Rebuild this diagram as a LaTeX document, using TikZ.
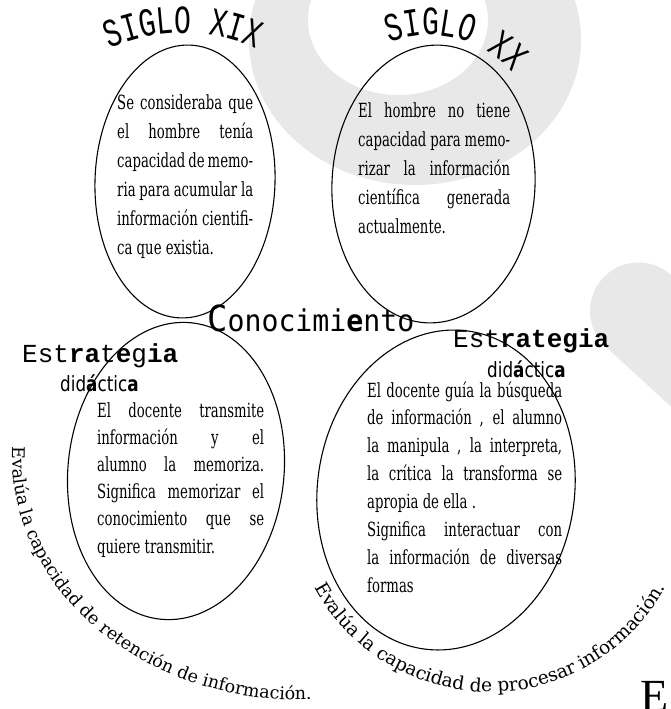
\documentclass[tikz,border=0pt]{standalone}
\usepackage{fontspec}
\usetikzlibrary{decorations.text,shapes.geometric}
\setmainfont{DejaVu Serif}
\newfontfamily\bodyf{DejaVu Serif}[FakeStretch=0.68]
\newfontfamily\arcf{DejaVu Serif}
\newfontfamily\typef{Liberation Mono}
\newfontfamily\sigf{Liberation Mono}[FakeStretch=0.70]
\newfontfamily\conf{DejaVu Sans Mono}[FakeStretch=0.94]
\newfontfamily\didf{DejaVu Sans}[FakeStretch=0.8]
\newfontfamily\bigEf{Liberation Serif}
\definecolor{bgray}{RGB}{232,232,232}
\newcommand{\jl}[2]{\makebox[#1pt][s]{#2}}
\tikzset{
  ell/.style={draw=black, line width=1.1pt, ellipse, inner sep=0pt},
  tx/.style={anchor=base west, inner sep=0pt, font=\bodyf\fontsize{19.5}{22}\selectfont},
  estr/.style={anchor=base west, inner sep=0pt, font=\typef\fontsize{26}{26}\selectfont},
  didf/.style={anchor=base west, inner sep=0pt, font=\didf\fontsize{21}{21}\selectfont},
}
\begin{document}
\begin{tikzpicture}[x=1pt,y=1pt]
\useasboundingbox (0,0) rectangle (671,-709);
\clip (0,0) rectangle (671,-709);
% background shapes
\fill[bgray, even odd rule] (415,-40) ellipse [x radius=166, y radius=145]
      (398,-20) ellipse [x radius=90, y radius=75];
\draw[bgray, line width=97pt, line cap=round] (638.5,-311) -- ++(147.4,-135.2);

% ellipses
\node[ell, minimum width=180pt, minimum height=273pt, rotate=-2] (e1) at (185,-181.5) {};
\node[ell, minimum width=203pt, minimum height=278pt, rotate=-3] (e2) at (433.5,-184) {};
\node[ell, minimum width=216pt, minimum height=298pt, rotate=-6] (e3) at (176,-471) {};
\node[ell, minimum width=257pt, minimum height=321pt, rotate=-8] (e4) at (446,-490) {};

% titles
\path[decorate, decoration={text along path, text align=center,
  text={|\sigf\fontsize{40}{40}\selectfont|SIGLO XIX}}]
  (66,-75.6) arc[start angle=130, end angle=50, radius=182];
\path[decorate, decoration={text along path, text align=center,
  text={|\sigf\fontsize{40}{40}\selectfont|SIGLO XX}}]
  (350.9,-69.0) arc[start angle=136.5, end angle=16.5, radius=109];

% top-left text
\node[tx] (a1) at (117,-109) {\jl{136}{Se consideraba que}};
\node[tx] (a2) at (117,-138) {\jl{136}{el hombre tenía}};
\node[tx] (a3) at (117,-167) {\jl{136}{capacidad de memo-}};
\node[tx] (a4) at (117,-196) {\jl{136}{ria para acumular la}};
\node[tx] (a5) at (117,-225) {\jl{136}{información cientifi-}};
\node[tx] (a6) at (117,-254) {ca que existia.};

% top-right text
\node[tx] (b1) at (358,-117) {\jl{152}{El hombre no tiene}};
\node[tx] (b2) at (358,-146) {\jl{152}{capacidad para memo-}};
\node[tx] (b3) at (358,-175) {\jl{152}{rizar la información}};
\node[tx] (b4) at (358,-204) {\jl{152}{científica generada}};
\node[tx] (b5) at (358,-233) {actualmente.};

% Conocimiento
\node[anchor=base west, inner sep=0pt, font=\conf\fontsize{30}{30}\selectfont] (con) at (207,-331)
  {{\fontsize{36}{36}\selectfont C}onocimi{\bfseries e}nto};

% Estrategia labels
\node[estr] (s1) at (22,-362) {Est{\bfseries ra}t{\bfseries e}g{\bfseries ia}};
\node[didf] (d1) at (60,-391) {did{\bfseries á}ctic{\bfseries a}};
\node[estr] (s2) at (453,-347) {Est{\bfseries rategia}};
\node[didf] (d2) at (487,-377) {did{\bfseries á}ctic{\bfseries a}};

% bottom-left text
\node[tx] (c1) at (97,-417) {\jl{167}{El docente transmite}};
\node[tx] (c2) at (97,-444.2) {\jl{167}{información y el}};
\node[tx] (c3) at (97,-471.4) {\jl{167}{alumno la memoriza.}};
\node[tx] (c4) at (97,-498.6) {\jl{167}{Significa memorizar el}};
\node[tx] (c5) at (97,-525.8) {\jl{167}{conocimiento que se}};
\node[tx] (c6) at (97,-553) {quiere transmitir.};

% bottom-right text
\node[tx] (f1) at (367,-397) {\jl{195}{El docente guía la búsqueda}};
\node[tx] (f2) at (367,-424.9) {\jl{195}{de información , el alumno}};
\node[tx] (f3) at (367,-452.8) {\jl{195}{la manipula , la interpreta,}};
\node[tx] (f4) at (367,-480.7) {\jl{195}{la crítica la transforma se}};
\node[tx] (f5) at (367,-508.6) {apropia de ella .};
\node[tx] (f6) at (367,-536.5) {\jl{195}{Significa interactuar con}};
\node[tx] (f7) at (367,-564.4) {\jl{195}{la información de diversas}};
\node[tx] (f8) at (367,-592.3) {formas};

% curved bottom texts
\path[decorate, decoration={text along path, text align=left,
  text={|\arcf\fontsize{17.5}{17.5}\selectfont|Evalúa la capacidad de retención de información.}}]
  (12.2,-446.4) arc[start angle=178, end angle=300, x radius=288, y radius=245];
\path[decorate, decoration={text along path, text align=center,
  text={|\arcf\fontsize{18.5}{18.5}\selectfont|Evalúa la capacidad de procesar información.}}]
  (302.1,-560.4) arc[start angle=200, end angle=340, radius=200];

% big E
\node[anchor=base west, inner sep=0pt, font=\bigEf\fontsize{46}{46}\selectfont] (bigE) at (640,-711) {E};
\end{tikzpicture}
\end{document}
